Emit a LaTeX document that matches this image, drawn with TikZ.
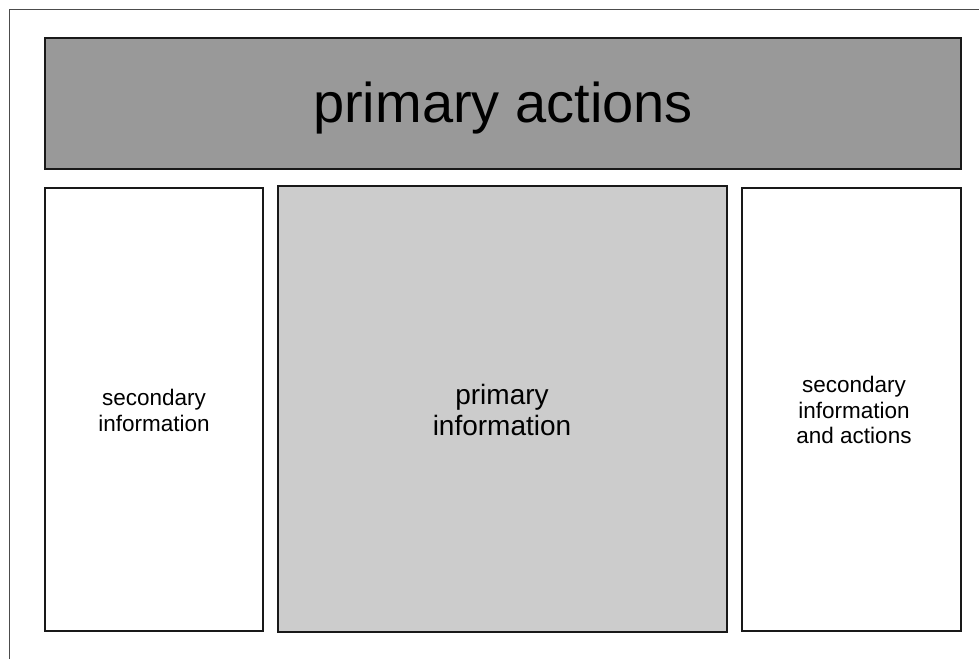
\documentclass[tikz,border=0pt]{standalone}
\usepackage{fontspec}
\setmainfont{Liberation Sans}
\begin{document}
\begin{tikzpicture}[x=1pt,y=-1pt,
  panel/.style={draw=black!90,line width=1.6pt},
  lbl/.style={align=center,text=black}]
\useasboundingbox (0,0) rectangle (979,659);
\draw[draw=black!70,line width=1.3pt] (9.5,659) -- (9.5,9.5) -- (979,9.5);
\path[panel,fill=black!40] (45,38) rectangle (961,169);
\node[lbl,font=\fontsize{56}{60}\selectfont] (pa) at (503,108) {primary actions};
\path[panel,fill=white] (45,188) rectangle (263,631);
\node[lbl,font=\fontsize{22.5}{26}\selectfont] (si) at (154,410) {secondary\\information};
\path[panel,fill=black!20] (278,186) rectangle (727,632);
\node[lbl,font=\fontsize{28}{31}\selectfont] (pi) at (502,410) {primary\\information};
\path[panel,fill=white] (742,188) rectangle (961,631);
\node[lbl,font=\fontsize{22.5}{25.5}\selectfont] (sa) at (854,410) {secondary\\information\\and actions};
\end{tikzpicture}
\end{document}
